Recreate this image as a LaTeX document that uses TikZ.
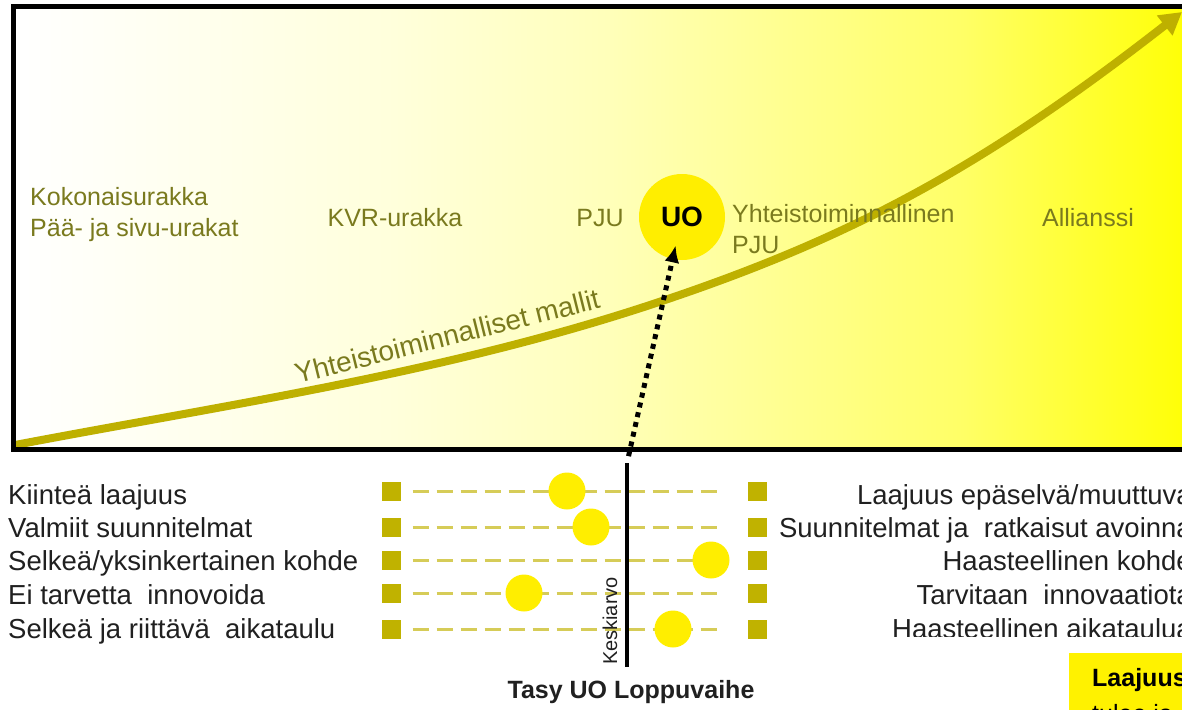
\documentclass[tikz,border=0pt]{standalone}
\usepackage{fontspec}
\setmainfont{Liberation Sans}
\usepackage{tikz}
\usetikzlibrary{arrows.meta}
\definecolor{olivetext}{RGB}{122,122,30}
\definecolor{curveolive}{RGB}{190,176,0}
\definecolor{squareolive}{RGB}{192,178,0}
\definecolor{dashyellow}{RGB}{214,204,88}
\definecolor{ballyellow}{RGB}{255,238,0}
\definecolor{itemgray}{RGB}{32,32,32}
\pgfdeclarehorizontalshading{slidefade}{100bp}{color(0bp)=(white); color(25bp)=(white); color(41bp)=(yellow!14); color(50bp)=(yellow!27); color(65bp)=(yellow!60); color(75bp)=(yellow); color(100bp)=(yellow)}
\tikzset{lbl/.style={text=olivetext, font=\fontsize{25}{31}\selectfont, inner sep=0pt}}
\tikzset{item/.style={text=itemgray, font=\fontsize{27.5}{33}\selectfont, inner sep=0pt, text height=20pt, text depth=0pt}}
\tikzset{endsq/.style={fill=squareolive, minimum size=19pt, inner sep=0pt}}
\tikzset{ball/.style={circle, fill=ballyellow, minimum size=37pt, inner sep=0pt}}
\tikzset{scaleline/.style={draw=dashyellow, line width=3pt, dash pattern=on 16pt off 8pt, shorten <=12pt, shorten >=23pt}}
\tikzset{trend/.style={draw=curveolive, line width=8pt, -{Triangle[length=22pt,width=24pt]}}}
\tikzset{dotarrow/.style={draw=black, line width=5pt, dash pattern=on 5pt off 5pt, -{Latex[length=17pt,width=15pt]}}}

\begin{document}
\begin{tikzpicture}[x=1pt, y=-1pt]
    \useasboundingbox (0,0) rectangle (1182,709);
    \clip (0,0) rectangle (1182,709);
    \shade[shading=slidefade] (13,7) rectangle (1200,449);
    \coordinate (c0) at (15,445);
    \coordinate (c1) at (650,305);
    \coordinate (c2) at (1182,12);
    \draw[trend] (c0) .. controls (225,405) and (440,374) .. (c1) .. controls (850,239) and (982,168) .. (c2);
    \node[lbl, font=\fontsize{28}{31}\selectfont, rotate=14] (mallit) at (447,336) {Yhteistoiminnalliset mallit};
    \node[lbl, anchor=west, align=left] (koko) at (30,215) {Kokonaisurakka\\Pää- ja sivu-urakat};
    \node[lbl] (kvr) at (395,218) {KVR-urakka};
    \node[lbl] (pju) at (600,218) {PJU};
    \node[circle, fill=ballyellow, minimum size=86pt, inner sep=0pt, font=\fontsize{28}{30}\selectfont\bfseries] (UO) at (682,217) {UO};
    \node[lbl, anchor=west, align=left] (ypju) at (732,229) {Yhteistoiminnallinen\\PJU};
    \node[lbl] (allianssi) at (1088,218) {Allianssi};
    \draw[line width=5pt] (1200,7) -- (13,7) -- (13,449) -- (1200,449);
    \node[item, anchor=west] (txtl1) at (8,494) {Kiinteä laajuus};
    \node[item, anchor=west] (txtl2) at (8,527) {Valmiit suunnitelmat};
    \node[item, anchor=west] (txtl3) at (8,560) {Selkeä/yksinkertainen kohde};
    \node[item, anchor=west] (txtl4) at (8,594) {Ei tarvetta\ \ innovoida};
    \node[item, anchor=west] (txtl5) at (8,628) {Selkeä ja riittävä\ \ aikataulu};
    \node[item, anchor=east] (txtr1) at (1192,494) {Laajuus epäselvä/muuttuva};
    \node[item, anchor=east] (txtr2) at (1192,527) {Suunnitelmat ja\ \ ratkaisut avoinna};
    \node[item, anchor=east] (txtr3) at (1192,560) {Haasteellinen kohde};
    \node[item, anchor=east] (txtr4) at (1192,594) {Tarvitaan\ \ innovaatiota};
    \node[item, anchor=east] (txtr5) at (1192,628) {Haasteellinen aikataulua};
    \fill[white] (850,637) rectangle (1200,652);
    \node[endsq] (sql1) at (391,491) {};
    \node[endsq] (sql2) at (391,527) {};
    \node[endsq] (sql3) at (391,560) {};
    \node[endsq] (sql4) at (391,593) {};
    \node[endsq] (sql5) at (391,629) {};
    \node[endsq] (sqr1) at (757,491) {};
    \node[endsq] (sqr2) at (757,527) {};
    \node[endsq] (sqr3) at (757,560) {};
    \node[endsq] (sqr4) at (757,593) {};
    \node[endsq] (sqr5) at (757,629) {};
    \draw[scaleline] (sql1) -- (sqr1);
    \draw[scaleline] (sql2) -- (sqr2);
    \draw[scaleline] (sql3) -- (sqr3);
    \draw[scaleline] (sql4) -- (sqr4);
    \draw[scaleline] (sql5) -- (sqr5);
    \node[ball] (ball1) at (567,491) {};
    \node[ball] (ball2) at (591,527) {};
    \node[ball] (ball3) at (711,560) {};
    \node[ball] (ball4) at (524,593) {};
    \node[ball] (ball5) at (673,629) {};
    \coordinate (ktop) at (627,463);
    \coordinate (kbot) at (627,667);
    \draw[line width=4.5pt] (ktop) -- (kbot);
    \node[rotate=90, text=itemgray, font=\fontsize{20}{22}\selectfont, inner sep=0pt] (keski) at (610,621) {Keskiarvo};
    \draw[dotarrow, shorten <=7pt, shorten >=-14pt] (ktop) -- (UO);
    \node[font=\fontsize{25}{28}\selectfont\bfseries, text=itemgray, inner sep=0pt] (tasy) at (631,692) {Tasy UO Loppuvaihe};
    \fill[yellow] (1069,653) rectangle (1200,720);
    \node[font=\fontsize{25}{28}\selectfont\bfseries, anchor=base west, inner sep=0pt] (laajuus) at (1092,686) {Laajuus};
    \node[font=\fontsize{25}{28}\selectfont, anchor=base west, inner sep=0pt] (tulee) at (1092,722) {tulee ja};
\end{tikzpicture}
\end{document}
